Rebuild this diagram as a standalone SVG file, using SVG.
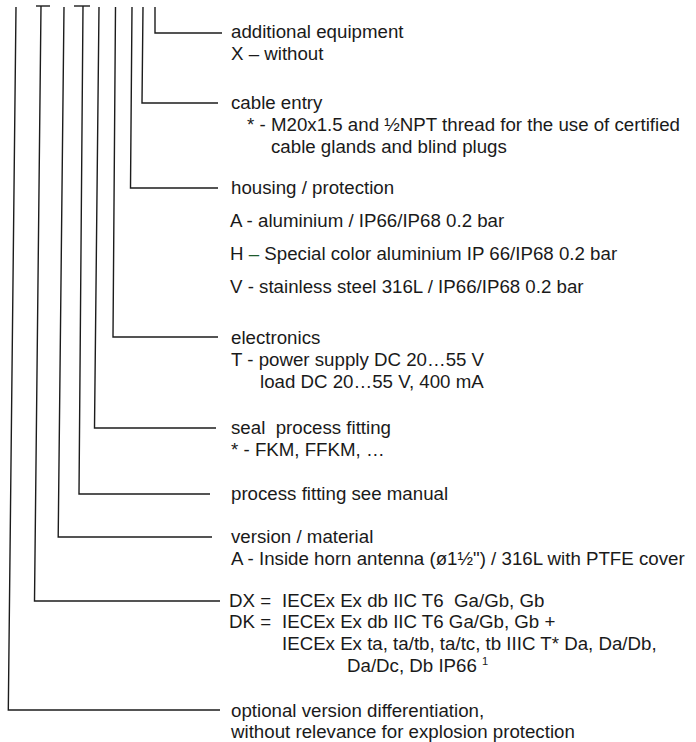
<svg xmlns="http://www.w3.org/2000/svg" width="696" height="742" viewBox="0 0 696 742">
<style>
.c{fill:none;stroke:#1c1c1c;stroke-width:1.4;stroke-linejoin:miter}
text{font-family:"Liberation Sans",Arial,sans-serif;font-size:18.7px;fill:#1a1a1a;white-space:pre}
.g{fill:#1e5a2c}
.sup{font-size:11px}
</style>
<rect width="696" height="742" fill="#fff"/>
<g id="connectors">
<polyline class="c" points="16,7 8.3,710 220,710"/>
<polyline class="c" points="36,6 50,6"/>
<polyline class="c" points="41,6 34.5,601 220,601"/>
<polyline class="c" points="64,7 58.2,537 212,537"/>
<polyline class="c" points="74,6 90,6"/>
<polyline class="c" points="83,6 79,494 210,494"/>
<polyline class="c" points="99,7 94.5,428 216,428"/>
<polyline class="c" points="115.5,7 113,337 218,337"/>
<polyline class="c" points="132,7 130.5,188 218,188"/>
<polyline class="c" points="143,7 142,103 218,103"/>
<polyline class="c" points="155,7 155,33 222,33"/>
</g>
<g id="additional">
<text x="231" y="38">additional equipment</text>
<text x="231" y="60">X – without</text>
</g>
<g id="cable">
<text x="231" y="109">cable entry</text>
<text x="247" y="131">* -</text>
<text x="271" y="131">M20x1.5 and ½NPT thread for the use of certified</text>
<text x="271" y="153">cable glands and blind plugs</text>
</g>
<g id="housing">
<text x="231" y="194">housing / protection</text>
<text x="230" y="227">A - aluminium / IP66/IP68 0.2 bar</text>
<text x="230" y="260">H <tspan class="g">–</tspan> Special color aluminium IP 66/IP68 0.2 bar</text>
<text x="230" y="293">V - stainless steel 316L / IP66/IP68 0.2 bar</text>
</g>
<g id="electronics">
<text x="231" y="344">electronics</text>
<text x="231" y="366">T - power supply DC 20…55 V</text>
<text x="260" y="388">load DC 20…55 V, 400 mA</text>
</g>
<g id="seal">
<text x="231" y="434">seal  process fitting</text>
<text x="231" y="456">* - FKM, FFKM, …</text>
</g>
<g id="process">
<text x="231" y="500">process fitting see manual</text>
</g>
<g id="version">
<text x="231" y="543">version / material</text>
<text x="231" y="565">A - Inside horn antenna (ø1½") / 316L with PTFE cover</text>
</g>
<g id="approval">
<text x="229" y="607">DX =</text>
<text x="282" y="607">IECEx Ex db IIC T6  Ga/Gb, Gb</text>
<text x="229" y="628">DK =</text>
<text x="282" y="628">IECEx Ex db IIC T6 Ga/Gb, Gb +</text>
<text x="282" y="650">IECEx Ex ta, ta/tb, ta/tc, tb IIIC T* Da, Da/Db,</text>
<text x="347" y="672">Da/Dc, Db IP66 <tspan class="sup" dy="-7">1</tspan></text>
</g>
<g id="optional">
<text x="231" y="717">optional version differentiation,</text>
<text x="231" y="738">without relevance for explosion protection</text>
</g>
</svg>
